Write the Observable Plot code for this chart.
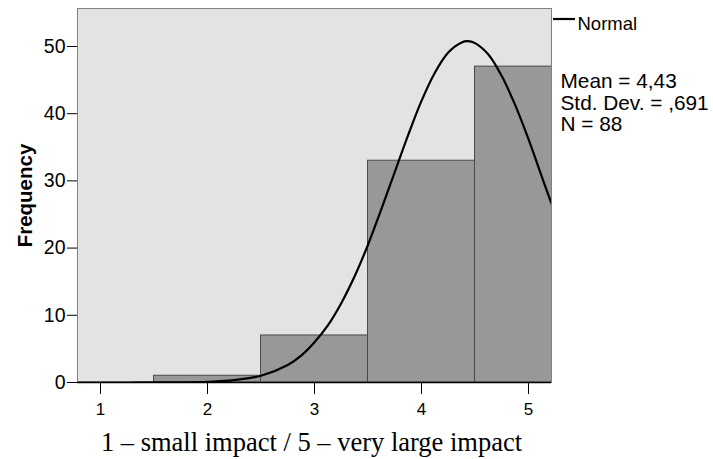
<!DOCTYPE html>
<html>
<head>
<meta charset="utf-8">
<script src="https://cdn.jsdelivr.net/npm/d3@7"></script>
<script src="https://cdn.jsdelivr.net/npm/@observablehq/plot@0.6"></script>
<style>
  html, body { margin: 0; padding: 0; background: #fff; }
  #chart { width: 713px; height: 459px; }
</style>
</head>
<body>
<div id="chart"></div>
<script>
// Histogram categories and frequencies
const categories = [1, 2, 3, 4, 5];
const frequencies = [0, 1, 7, 33, 47];
const yTicks = [0, 10, 20, 30, 40, 50];
const xTicks = [1, 2, 3, 4, 5];

// Normal curve
const curveX = [0.785, 1.0, 1.25, 1.5, 1.75, 2.0, 2.25, 2.5, 2.75, 2.875, 3.0, 3.125, 3.25, 3.375, 3.5, 3.625, 3.75, 3.875, 4.0, 4.125, 4.25, 4.375, 4.43, 4.5, 4.625, 4.75, 4.875, 5.0, 5.125, 5.215];
const curveY = [0, 0, 0, 0.01, 0.03, 0.1, 0.35, 1.0, 2.6, 4.0, 6.0, 8.5, 11.8, 15.8, 20.5, 25.8, 31.3, 36.8, 41.9, 46.1, 49.1, 50.6, 50.8, 50.5, 48.8, 45.6, 41.3, 36.2, 30.6, 26.6];

const statsLines = ["Mean = 4,43", "Std. Dev. = ,691", "N = 88"];
const xLabel = "1 – small impact / 5 – very large impact";
const yLabel = "Frequency";

const bars = categories.map((c, i) => ({x1: c - 0.5, x2: c + 0.5, y: frequencies[i]})).filter(d => d.y > 0);
const curve = curveX.map((x, i) => ({x, y: curveY[i]}));

const sans = "Liberation Sans, Arial, sans-serif";
const serif = "Liberation Serif, Times New Roman, serif";

const chart = Plot.plot({
  width: 713,
  height: 459,
  marginLeft: 77,
  marginRight: 162,
  marginTop: 8,
  marginBottom: 77,
  style: {fontFamily: sans, fontSize: "19px", color: "#000", background: "#fff"},
  x: {domain: [0.785, 5.215]},
  y: {domain: [0, 55.65]},
  marks: [
    Plot.frame({fill: "#e3e3e3", stroke: "none"}),
    Plot.rectY(bars, {x1: "x1", x2: "x2", y: "y", fill: "#989898", stroke: "#4a4a4a", strokeWidth: 1, clip: true}),
    Plot.line(curve, {x: "x", y: "y", stroke: "#000", strokeWidth: 2.2, curve: "catmull-rom", clip: true}),
    Plot.frame({stroke: "#808080", strokeWidth: 1}),
    Plot.ruleY([0], {stroke: "#000", strokeWidth: 1.5}),
    Plot.axisY({ticks: yTicks, tickSize: 10, tickPadding: 2, fontSize: 19.5, fontFamily: sans, label: null, tickFormat: d => d}),
    Plot.axisX({ticks: xTicks, tickSize: 12, tickPadding: 8, fontSize: 17, fontFamily: sans, label: null, tickFormat: d => d}),
    Plot.text([yLabel], {frameAnchor: "left", textAnchor: "middle", lineAnchor: "middle", rotate: -90, dx: -52, dy: 0, fontSize: 20.5, fontWeight: "bold", fontFamily: sans, text: d => d}),
    Plot.text([xLabel], {frameAnchor: "bottom", lineAnchor: "middle", dx: -3, dy: 60.5, fontSize: 26.5, fontFamily: serif, text: d => d}),
    Plot.text(["Normal"], {frameAnchor: "top-right", dx: 26, dy: 16, textAnchor: "start", lineAnchor: "middle", fontSize: 18.5, fontFamily: sans, text: d => d}),
    Plot.text([statsLines.join("\n")], {frameAnchor: "top-right", dx: 9, dy: 94, textAnchor: "start", lineAnchor: "middle", lineHeight: 1.05, fontSize: 20.8, fontFamily: sans, text: d => d})
  ]
});

// legend swatch line next to "Normal"
d3.select(chart).append("line")
  .attr("x1", 553).attr("x2", 575)
  .attr("y1", 19).attr("y2", 19)
  .attr("stroke", "#000").attr("stroke-width", 2.2);

document.getElementById("chart").appendChild(chart);
</script>
</body>
</html>
